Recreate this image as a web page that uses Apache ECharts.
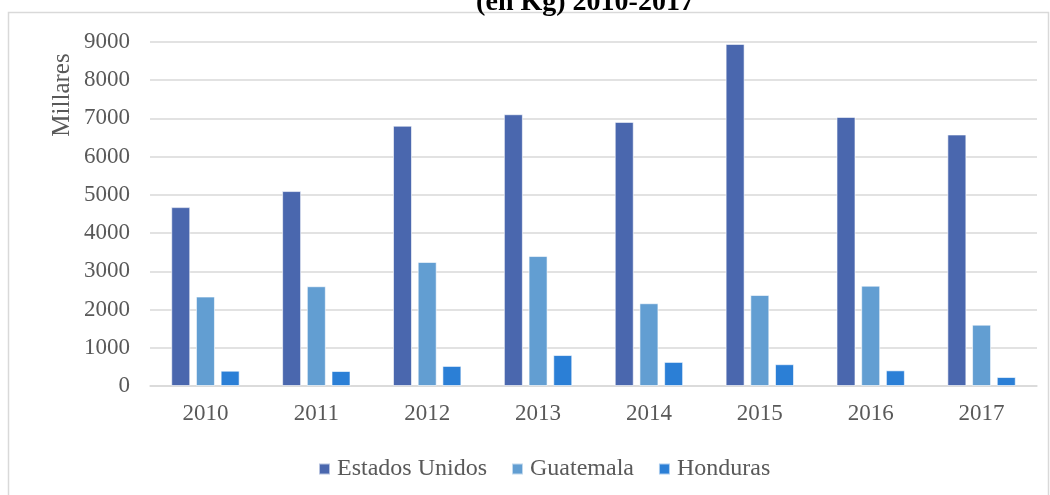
<!DOCTYPE html>
<html><head><meta charset="utf-8">
<script src="https://cdn.jsdelivr.net/npm/echarts@6/dist/echarts.min.js"></script>
<style>html,body{margin:0;padding:0;background:#fff}#c{width:1050px;height:495px}</style>
</head><body><div id="c"></div>
<script>
const years = ['2010','2011','2012','2013','2014','2015','2016','2017'];
const estadosUnidos = [4680, 5100, 6810, 7110, 6910, 8950, 7040, 6580];
const guatemala = [2340, 2610, 3245, 3400, 2165, 2380, 2625, 1605];
const honduras = [400, 392, 525, 810, 630, 570, 410, 235];
const yTicks = {min: 0, max: 9000, interval: 1000};

const font = 'Liberation Serif';
const chart = echarts.init(document.getElementById('c'), null, {renderer: 'canvas'});
const barStyle = c => ({color: c, borderColor: 'rgba(255,255,255,0.6)', borderWidth: 1});
chart.setOption({
  animation: false,
  textStyle: {fontFamily: font},
  graphic: [
    {type: 'rect', shape: {x: 8.5, y: 12.5, width: 1040, height: 500}, style: {fill: 'none', stroke: '#d9d9d9', lineWidth: 1.5}, z: -1},
    {type: 'text', x: 585, y: 17,
      style: {text: '(en Kg) 2010-2017', font: 'bold 28px "Liberation Serif"', fill: '#000', textAlign: 'center', textVerticalAlign: 'bottom'}},
    {type: 'text', x: 62, y: 95, rotation: Math.PI / 2,
      style: {text: 'Millares', font: '25px "Liberation Serif"', fill: '#595959', textAlign: 'center', textVerticalAlign: 'middle'}}
  ],
  grid: {left: 150, right: 13, top: 42, bottom: 109},
  legend: {top: 452, left: 313, itemWidth: 11, itemHeight: 11, itemGap: 24, icon: 'rect',
    textStyle: {fontFamily: font, fontSize: 24, color: '#595959', padding: [0, 0, 0, 2]}},
  xAxis: {type: 'category', data: years,
    axisLine: {lineStyle: {color: '#d9d9d9', width: 1.5}}, axisTick: {show: false},
    axisLabel: {fontFamily: font, fontSize: 23, color: '#595959', margin: 16}},
  yAxis: {type: 'value', min: yTicks.min, max: yTicks.max, interval: yTicks.interval,
    axisLine: {show: false}, axisTick: {show: false},
    splitLine: {lineStyle: {color: '#d9d9d9', width: 1.5}},
    axisLabel: {fontFamily: font, fontSize: 23, color: '#595959', margin: 20, formatter: v => String(v)}},
  series: [
    {name: 'Estados Unidos', type: 'bar', data: estadosUnidos, barWidth: 19, barGap: '30%', itemStyle: barStyle('#4a67ae')},
    {name: 'Guatemala', type: 'bar', data: guatemala, barWidth: 19, barGap: '30%', itemStyle: barStyle('#629ed2')},
    {name: 'Honduras', type: 'bar', data: honduras, barWidth: 19, barGap: '30%', itemStyle: barStyle('#2b7fd6')}
  ]
});
</script></body></html>
